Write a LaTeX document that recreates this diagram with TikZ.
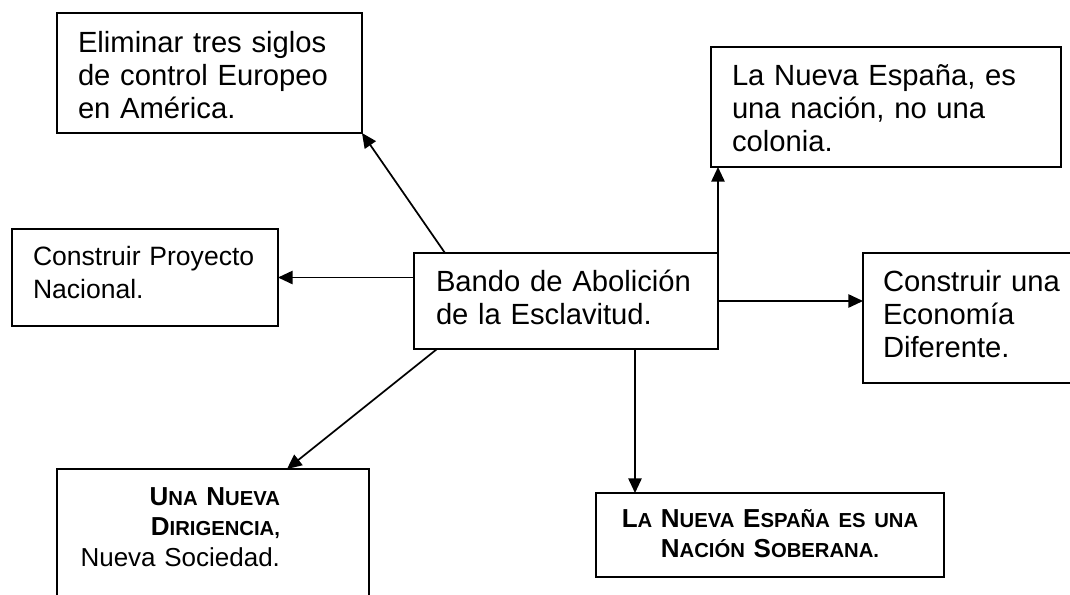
\documentclass[tikz,border=0pt]{standalone}
\usepackage{fontspec}
\setmainfont{Liberation Sans}
\usetikzlibrary{arrows.meta}
\newdimen\px \px=0.75pt % one pixel of the reference
\newcommand\sml[1]{{\fontsize{15.2}{23}\selectfont #1}} % hand-made small caps
\tikzset{
>={Triangle[length=11pt,width=10pt]}, % filled triangle heads
box/.style={draw, line width=1.3pt, rectangle, anchor=north west, outer sep=0pt, inner ysep=0pt, align=left, font=\fontsize{21.9}{25.1}\selectfont}, % every text box
link/.style={->, line width=1.3pt}, % every arrow
}

\begin{document}
\begin{tikzpicture}[x=0.75pt, y=-0.75pt]
        \useasboundingbox (0,0) rectangle (1070,594);
        \clip (0,0) rectangle (1070,594);

        \node[box, inner xsep=22\px, text width=260\px, text height=38\px, text depth=58\px] (bando) at (414,253) {Bando de Abolición\\ de la Esclavitud.};
        \node[box, inner xsep=21\px, text width=263\px, text height=39\px, text depth=81\px] (elim) at (57,13) {Eliminar tres siglos\\ de control Europeo\\ en América.};
        \node[box, inner xsep=21\px, text width=308\px, text height=38\px, text depth=82\px] (nacion) at (711,47) {La Nueva España, es\\ una nación, no una\\ colonia.};
        \node[box, font=\fontsize{19.9}{24.8}\selectfont, inner xsep=21\px, text width=224\px, text height=36\px, text depth=61\px] (proyecto) at (12,229) {Construir Proyecto\\ Nacional.};
        \node[box, inner xsep=20\px, text width=197\px, text height=38\px, text depth=92\px] (economia) at (863,253) {Construir una\\ Economía\\ Diferente.};
        \node[box, font=\fontsize{19.5}{23.2}\selectfont, inner xsep=21\px, text width=270\px, text height=36\px, text depth=130\px] (dirigencia) at (57,469) {\parbox[t]{202\px}{\raggedleft\bfseries U\sml{NA} N\sml{UEVA}\\ D\sml{IRIGENCIA,}\\ \mdseries Nueva Sociedad.}};
        \node[box, align=center, font=\fontsize{19.5}{22.5}\selectfont\bfseries, inner xsep=10\px, text width=328\px, text height=34\px, text depth=50\px] (soberana) at (596,493) {L\sml{A} N\sml{UEVA} E\sml{SPAÑA ES UNA}\\ N\sml{ACIÓN} S\sml{OBERANA.}};

        \draw[link] ([xshift=31\px]bando.north west) -- (elim.south east);
        \draw[link] (bando.north east) -- (bando.north east |- nacion.south);
        \draw[link] (bando.west |- proyecto.east) -- (proyecto.east);
        \draw[link] (bando.east) -- (bando.east -| economia.west);
        \draw[link] ([xshift=23\px]bando.south west) -- ([xshift=230\px]dirigencia.north west);
        \draw[link] ([xshift=221\px]bando.south west) -- ([xshift=221\px]bando.south west |- soberana.north);
    \end{tikzpicture}
\end{document}
